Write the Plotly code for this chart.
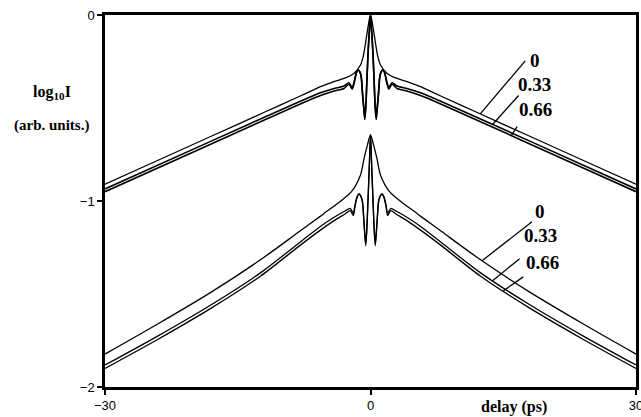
import numpy as np
import plotly.graph_objects as go

# Correlation traces, log10 intensity vs delay (ps); left half (delay <= 0),
# each trace is symmetric about zero delay.
# Upper family
up_t0 = [-30, -24, -18, -12, -8, -6.44, -5.65, -4.14, -3.0, -1.88, -1.13, -0.83, -0.565, -0.3, 0]
up_v0 = [-0.91, -0.781, -0.652, -0.523, -0.437, -0.403, -0.385, -0.358, -0.341, -0.314, -0.269, -0.224, -0.152, -0.07, 0]

up_t33 = [-30, -18, -8, -5.65, -4.2, -3.0, -2.45, -2.07, -1.85, -1.6, -1.43, -1.2, -1.05, -0.9, -0.75, -0.64, -0.52, -0.4, -0.25, -0.12, 0]
up_v33 = [-0.935, -0.678, -0.465, -0.418, -0.396, -0.382, -0.364, -0.389, -0.36, -0.31, -0.296, -0.305, -0.33, -0.42, -0.50, -0.55, -0.48, -0.34, -0.18, -0.08, 0]

up_t66 = [-30, -18, -8, -5.65, -4.2, -3.0, -2.45, -2.07, -1.85, -1.6, -1.43, -1.2, -1.05, -0.9, -0.75, -0.64, -0.52, -0.4, -0.25, -0.12, 0]
up_v66 = [-0.95, -0.693, -0.48, -0.433, -0.41, -0.395, -0.372, -0.398, -0.366, -0.312, -0.296, -0.307, -0.335, -0.43, -0.51, -0.562, -0.49, -0.345, -0.182, -0.08, 0]

# Lower family
lo_t0 = [-30, -24, -18, -12.4, -8, -5.72, -4.97, -3.47, -2.15, -1.13, -0.72, -0.35, 0]
lo_v0 = [-1.823, -1.66, -1.49, -1.315, -1.163, -1.084, -1.057, -1.004, -0.95, -0.86, -0.77, -0.70, -0.645]

lo_t33 = [-30, -24, -18, -12.4, -8, -5.7, -4.2, -2.88, -2.3, -1.94, -1.75, -1.5, -1.3, -1.1, -0.93, -0.81, -0.68, -0.54, -0.43, -0.32, -0.13, 0]
lo_v33 = [-1.882, -1.725, -1.558, -1.385, -1.223, -1.138, -1.09, -1.054, -1.04, -1.066, -1.02, -0.975, -0.962, -0.972, -0.995, -1.057, -1.15, -1.227, -1.16, -1.04, -0.806, -0.645]

lo_t66 = [-30, -24, -18, -12.4, -8, -5.7, -4.2, -2.88, -2.3, -1.94, -1.75, -1.5, -1.3, -1.1, -0.93, -0.81, -0.68, -0.54, -0.43, -0.32, -0.13, 0]
lo_v66 = [-1.90, -1.743, -1.576, -1.403, -1.24, -1.158, -1.108, -1.07, -1.052, -1.078, -1.028, -0.978, -0.962, -0.975, -1.0, -1.065, -1.16, -1.24, -1.17, -1.045, -0.808, -0.645]

chirp_labels = ["0", "0.33", "0.66"]
x_ticks = [-30, 0, 30]
x_ticktext = ["\u221230", "0", "30"]
y_ticks = [-2, -1, 0]
y_ticktext = ["\u22122", "\u22121", "0"]


def mirror(t, v):
    t = np.asarray(t, float)
    v = np.asarray(v, float)
    return np.concatenate([t, -t[-2::-1]]), np.concatenate([v, v[-2::-1]])


fig = go.Figure()

families = [
    [(up_t0, up_v0, 1.3), (up_t33, up_v33, 1.6), (up_t66, up_v66, 1.6)],
    [(lo_t0, lo_v0, 1.3), (lo_t33, lo_v33, 1.3), (lo_t66, lo_v66, 1.3)],
]
full = []
for fam in families:
    row = []
    for t, v, w in fam:
        ft, fv = mirror(t, v)
        row.append((ft, fv))
        fig.add_trace(go.Scatter(
            x=ft, y=fv, mode="lines",
            line=dict(color="black", width=w, shape="spline", smoothing=0.8),
            hoverinfo="skip", showlegend=False))
    full.append(row)

# Chirp labels with leader lines to each trace
label_font = dict(family="Liberation Serif", size=19, color="black")
leader_specs = [
    # (trace index, delay at contact, leader dx, leader dy in px)
    [(0, 12.4, 45, 53), (1, 13.8, 26, 29), (2, 15.9, 6, 9)],
    [(0, 12.6, 50, 39), (1, 13.8, 27, 22), (2, 15.0, 20, 14)],
]
label_pos = [
    [(18.6, -0.242), (18.5, -0.376), (18.6, -0.51)],
    [(19.1, -1.054), (19.2, -1.183), (19.4, -1.333)],
]
for f, specs in enumerate(leader_specs):
    for (k, d, dx, dy), (lx, ly), txt in zip(specs, label_pos[f], chirp_labels):
        ft, fv = full[f][k]
        yv = float(np.interp(d, ft, fv))
        fig.add_shape(type="line", xref="x", yref="y",
                      xsizemode="pixel", ysizemode="pixel",
                      xanchor=d, yanchor=yv, x0=0, y0=0, x1=dx, y1=dy,
                      line=dict(color="black", width=1.3))
        fig.add_annotation(x=lx, y=ly, xref="x", yref="y",
                           text="<b>%s</b>" % txt, showarrow=False,
                           font=label_font)

fig.add_annotation(x=-0.1, y=0.793, xref="paper", yref="paper",
                   xanchor="center", yanchor="middle",
                   text="<b>log<sub>10</sub>I</b>", showarrow=False,
                   font=dict(family="Liberation Serif", size=16, color="black"))
fig.add_annotation(x=-0.1, y=0.704, xref="paper", yref="paper",
                   xanchor="center", yanchor="middle",
                   text="<b>(arb. units.)</b>", showarrow=False,
                   font=dict(family="Liberation Serif", size=15, color="black"))
fig.add_annotation(x=0.771, y=-0.054, xref="paper", yref="paper",
                   xanchor="center", yanchor="middle",
                   text="<b>delay (ps)</b>", showarrow=False,
                   font=dict(family="Liberation Serif", size=16, color="black"))

axis_common = dict(showline=True, linewidth=2.5, linecolor="black", mirror=True,
                   ticks="outside", ticklen=5, tickwidth=1.5, tickcolor="black",
                   showgrid=False, zeroline=False, automargin=False,
                   ticklabeloverflow="allow",
                   tickfont=dict(family="Liberation Sans", size=13, color="black"))

fig.update_layout(
    width=641, height=417,
    margin=dict(l=105, r=5, t=15, b=30),
    paper_bgcolor="white", plot_bgcolor="white",
    xaxis=dict(range=[-30, 30], tickvals=x_ticks, ticktext=x_ticktext, **axis_common),
    yaxis=dict(range=[-2, 0], tickvals=y_ticks, ticktext=y_ticktext, **axis_common),
)

fig.write_html("out.html")
